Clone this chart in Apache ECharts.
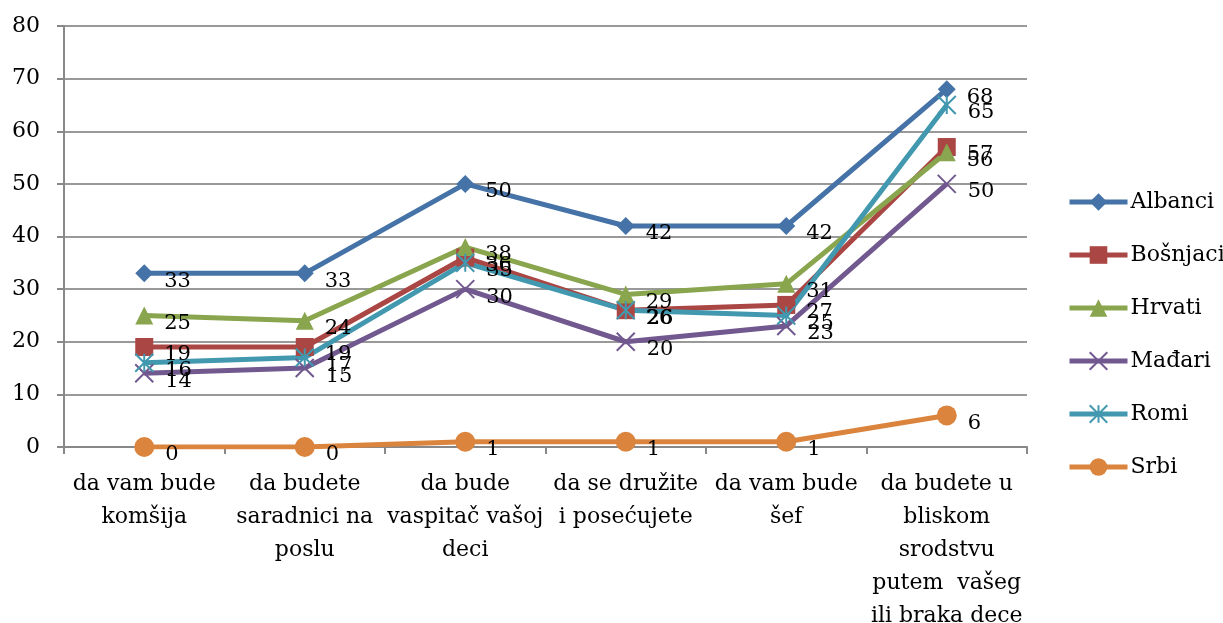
<!DOCTYPE html>
<html>
<head>
<meta charset="utf-8">
<script src="https://cdn.jsdelivr.net/npm/echarts@6/dist/echarts.min.js"></script>
<style>
  html, body { margin: 0; padding: 0; background: #fff; }
  #main { width: 1223px; height: 623px; }
</style>
</head>
<body>
<div id="main"></div>
<script>
// podaci
var categories = [
  'da vam bude\nkomšija',
  'da budete\nsaradnici na\nposlu',
  'da bude\nvaspitač vašoj\ndeci',
  'da se družite\ni posećujete',
  'da vam bude\nšef',
  'da budete u\nbliskom\nsrodstvu\nputem  vašeg\nili braka dece'
];
var albanci  = [33, 33, 50, 42, 42, 68];
var bosnjaci = [19, 19, 36, 26, 27, 57];
var hrvati   = [25, 24, 38, 29, 31, 56];
var madjari  = [14, 15, 30, 20, 23, 50];
var romi     = [16, 17, 35, 26, 25, 65];
var srbi     = [0, 0, 1, 1, 1, 6];
var yTicks   = [0, 10, 20, 30, 40, 50, 60, 70, 80];

var font = 'DejaVu Serif';

function makeSeries(name, data, color, symbol, size, stroke) {
  var s = {
    name: name,
    type: 'line',
    data: data,
    symbol: symbol,
    symbolSize: size,
    lineStyle: { width: 5, color: color },
    itemStyle: { color: color },
    label: {
      show: true,
      position: 'right',
      distance: 11,
      offset: [0, 8],
      color: '#000',
      fontFamily: font,
      fontSize: 21
    }
  };
  if (stroke) {
    // simboli od linija (x, zvezdica)
    s.itemStyle = { color: 'rgba(0,0,0,0)', borderColor: color, borderWidth: 2 };
  }
  return s;
}

var myChart = echarts.init(document.getElementById('main'));
var option = {
  animation: false,
  grid: { left: 64, top: 26, right: 196, bottom: 176, outerBoundsMode: 'none' },
  legend: {
    orient: 'vertical',
    left: 1062,
    top: 186,
    itemWidth: 58,
    itemHeight: 22,
    itemGap: 31,
    lineStyle: { width: 5 },
    textStyle: { fontFamily: font, fontSize: 22, color: '#000', padding: [0, 0, 0, -2] },
    data: ['Albanci', 'Bošnjaci', 'Hrvati', 'Mađari', 'Romi', 'Srbi']
  },
  xAxis: {
    type: 'category',
    data: categories,
    boundaryGap: true,
    axisLine: { lineStyle: { color: '#888', width: 2 } },
    axisTick: { show: true, length: 7, lineStyle: { color: '#888', width: 2 } },
    axisLabel: {
      interval: 0,
      margin: 21,
      fontFamily: font,
      fontSize: 22,
      lineHeight: 33,
      color: '#000',
      align: 'center',
      verticalAlign: 'top'
    }
  },
  yAxis: {
    type: 'value',
    min: yTicks[0],
    max: yTicks[yTicks.length - 1],
    interval: 10,
    axisLine: { show: true, lineStyle: { color: '#888', width: 2 } },
    axisTick: { show: true, length: 7, lineStyle: { color: '#888', width: 2 } },
    splitLine: { lineStyle: { color: '#999', width: 2 } },
    axisLabel: { fontFamily: font, fontSize: 22, color: '#000', margin: 24 }
  },
  series: [
    makeSeries('Albanci', albanci, '#4572A7', 'diamond', 18),
    makeSeries('Bošnjaci', bosnjaci, '#AA4643', 'rect', 18),
    makeSeries('Hrvati', hrvati, '#89A54E', 'triangle', 18),
    makeSeries('Mađari', madjari, '#71588F', 'path://M0,0 L10,10 M10,0 L0,10', 18, true),
    makeSeries('Romi', romi, '#4198AF', 'path://M0,0 L10,10 M10,0 L0,10 M5,0 L5,10', 18, true),
    makeSeries('Srbi', srbi, '#DB843D', 'circle', 20)
  ]
};
myChart.setOption(option);
</script>
</body>
</html>
